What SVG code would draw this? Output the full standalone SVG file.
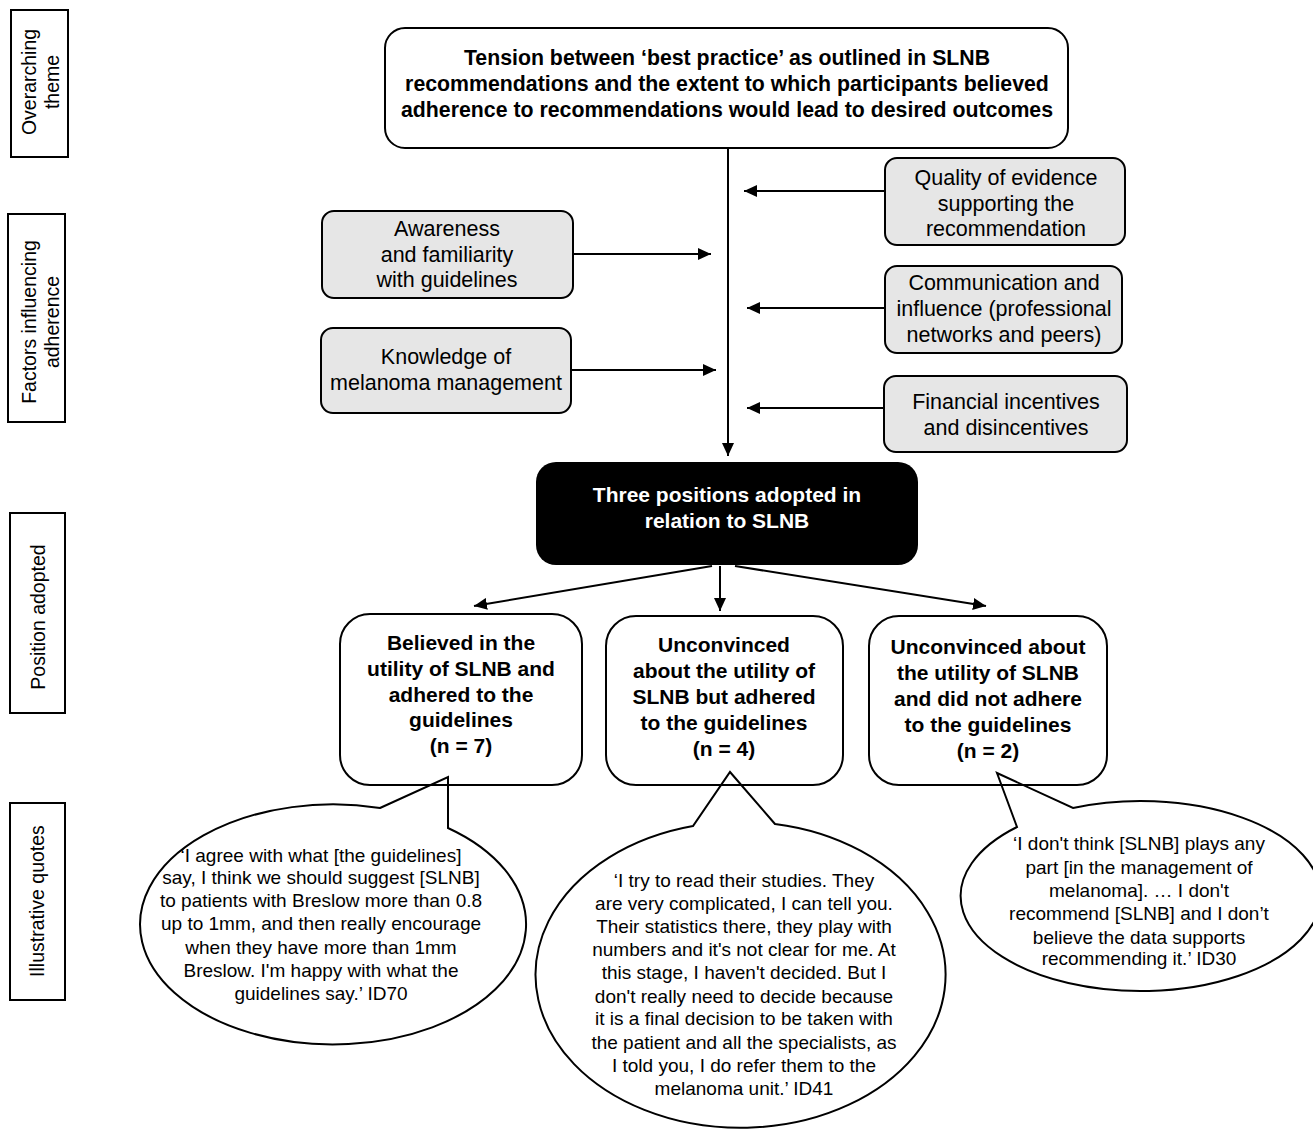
<svg xmlns="http://www.w3.org/2000/svg" width="1313" height="1130" viewBox="0 0 1313 1130">
<defs>
<marker id="ah" markerUnits="userSpaceOnUse" markerWidth="13" markerHeight="12" refX="13" refY="6" orient="auto">
<path d="M0,0 L13,6 L0,12 z" fill="#000"/>
</marker>
<style>
text{font-family:"Liberation Sans",Arial,sans-serif;text-anchor:middle;fill:#000}
.lab{font-size:19.5px}
.hd{font-size:21px;font-weight:bold}
.top{font-size:21.3px}
.wh{fill:#fff}
.gr{font-size:21.5px}
.q{font-size:19px}
.box{fill:#fff;stroke:#000;stroke-width:2}
.gbox{fill:#e6e6e6;stroke:#000;stroke-width:2}
.lbox{fill:#fff;stroke:#000;stroke-width:2}
.con{stroke:#000;stroke-width:2;fill:none;marker-end:url(#ah)}
.bub{fill:#fff;stroke:#000;stroke-width:2;stroke-linejoin:miter}
</style>
</defs>
<rect width="1313" height="1130" fill="#fff"/>

<g id="label-overarching">
<rect class="lbox" x="11" y="10" width="57" height="147"/>
<text class="lab" transform="translate(39,82) rotate(-90)"><tspan x="0" y="-3">Overarching</tspan><tspan x="0" y="20">theme</tspan></text>
</g>
<g id="label-factors">
<rect class="lbox" x="8" y="214" width="57" height="208"/>
<text class="lab" transform="translate(37,322) rotate(-90)"><tspan x="0" y="-1">Factors influencing</tspan><tspan x="0" y="22">adherence</tspan></text>
</g>
<g id="label-position">
<rect class="lbox" x="10" y="513" width="55" height="200"/>
<text class="lab" transform="translate(38,617) rotate(-90)"><tspan x="0" y="7">Position adopted</tspan></text>
</g>
<g id="label-quotes">
<rect class="lbox" x="10" y="803" width="55" height="197"/>
<text class="lab" transform="translate(38,901) rotate(-90)"><tspan x="0" y="6">Illustrative quotes</tspan></text>
</g>

<g id="connectors">
<line class="con" x1="728" y1="148" x2="728" y2="456"/>
<line class="con" x1="573" y1="254" x2="711" y2="254"/>
<line class="con" x1="571" y1="370" x2="716" y2="370"/>
<line class="con" x1="885" y1="191" x2="744" y2="191"/>
<line class="con" x1="885" y1="308" x2="747" y2="308"/>
<line class="con" x1="884" y1="408" x2="747" y2="408"/>
<line class="con" x1="712" y1="566" x2="474" y2="606"/>
<line class="con" x1="720" y1="566" x2="720" y2="611"/>
<line class="con" x1="735" y1="566" x2="986" y2="606"/>
</g>

<g id="theme">
<rect class="box" x="385" y="28" width="683" height="120" rx="20"/>
<text class="hd top"><tspan x="727" y="65">Tension between ‘best practice’ as outlined in SLNB</tspan><tspan x="727" y="91">recommendations and the extent to which participants believed</tspan><tspan x="727" y="117">adherence to recommendations would lead to desired outcomes</tspan></text>
</g>

<g id="awareness">
<rect class="gbox" x="322" y="211" width="251" height="87" rx="12"/>
<text class="gr"><tspan x="447" y="236">Awareness</tspan><tspan x="447" y="262">and familiarity</tspan><tspan x="447" y="287">with guidelines</tspan></text>
</g>
<g id="knowledge">
<rect class="gbox" x="321" y="328" width="250" height="85" rx="12"/>
<text class="gr"><tspan x="446" y="364">Knowledge of</tspan><tspan x="446" y="390">melanoma management</tspan></text>
</g>
<g id="quality">
<rect class="gbox" x="885" y="158" width="240" height="87" rx="12"/>
<text class="gr"><tspan x="1006" y="185">Quality of evidence</tspan><tspan x="1006" y="211">supporting the</tspan><tspan x="1006" y="236">recommendation</tspan></text>
</g>
<g id="communication">
<rect class="gbox" x="885" y="266" width="237" height="87" rx="12"/>
<text class="gr"><tspan x="1004" y="290">Communication and</tspan><tspan x="1004" y="316">influence (professional</tspan><tspan x="1004" y="342">networks and peers)</tspan></text>
</g>
<g id="financial">
<rect class="gbox" x="884" y="376" width="243" height="76" rx="12"/>
<text class="gr"><tspan x="1006" y="409">Financial incentives</tspan><tspan x="1006" y="435">and disincentives</tspan></text>
</g>

<g id="positions">
<rect x="536" y="462" width="382" height="103" rx="20" fill="#000"/>
<text class="hd wh"><tspan x="727" y="502">Three positions adopted in</tspan><tspan x="727" y="528">relation to SLNB</tspan></text>
</g>

<g id="bubble1">
<path class="bub" d="M380,808 L448,777 L448,828 A193,120 0 1 1 380,808 Z"/>
<text class="q"><tspan x="321" y="862">‘I agree with what [the guidelines]</tspan><tspan x="321" y="884">say, I think we should suggest [SLNB]</tspan><tspan x="321" y="907">to patients with Breslow more than 0.8</tspan><tspan x="321" y="930">up to 1mm, and then really encourage</tspan><tspan x="321" y="954">when they have more than 1mm</tspan><tspan x="321" y="977">Breslow. I'm happy with what the</tspan><tspan x="321" y="1000">guidelines say.’ ID70</tspan></text>
</g>
<g id="bubble2">
<path class="bub" d="M775,824 L730,772 L693,826 A205,153 0 1 0 775,824 Z"/>
<text class="q"><tspan x="744" y="887">‘I try to read their studies. They</tspan><tspan x="744" y="910">are very complicated, I can tell you.</tspan><tspan x="744" y="933">Their statistics there, they play with</tspan><tspan x="744" y="956">numbers and it's not clear for me. At</tspan><tspan x="744" y="979">this stage, I haven't decided. But I</tspan><tspan x="744" y="1003">don't really need to decide because</tspan><tspan x="744" y="1025">it is a final decision to be taken with</tspan><tspan x="744" y="1049">the patient and all the specialists, as</tspan><tspan x="744" y="1072">I told you, I do refer them to the</tspan><tspan x="744" y="1095">melanoma unit.’ ID41</tspan></text>
</g>
<g id="bubble3">
<path class="bub" d="M1017,827 L997,773 L1073,808 A180,95 0 1 1 1017,827 Z"/>
<text class="q"><tspan x="1139" y="850">‘I don't think [SLNB] plays any</tspan><tspan x="1139" y="874">part [in the management of</tspan><tspan x="1139" y="897">melanoma]. … I don't</tspan><tspan x="1139" y="920">recommend [SLNB] and I don’t</tspan><tspan x="1139" y="944">believe the data supports</tspan><tspan x="1139" y="965">recommending it.’ ID30</tspan></text>
</g>

<g id="pos1">
<rect x="340" y="614" width="242" height="171" rx="30" fill="none" stroke="#000" stroke-width="2"/>
<text class="hd"><tspan x="461" y="650">Believed in the</tspan><tspan x="461" y="676">utility of SLNB and</tspan><tspan x="461" y="702">adhered to the</tspan><tspan x="461" y="727">guidelines</tspan><tspan x="461" y="753">(n = 7)</tspan></text>
</g>
<g id="pos2">
<rect x="606" y="616" width="237" height="169" rx="30" fill="none" stroke="#000" stroke-width="2"/>
<text class="hd"><tspan x="724" y="652">Unconvinced</tspan><tspan x="724" y="678">about the utility of</tspan><tspan x="724" y="704">SLNB but adhered</tspan><tspan x="724" y="730">to the guidelines</tspan><tspan x="724" y="756">(n = 4)</tspan></text>
</g>
<g id="pos3">
<rect x="869" y="616" width="238" height="169" rx="30" fill="none" stroke="#000" stroke-width="2"/>
<text class="hd"><tspan x="988" y="654">Unconvinced about</tspan><tspan x="988" y="680">the utility of SLNB</tspan><tspan x="988" y="706">and did not adhere</tspan><tspan x="988" y="732">to the guidelines</tspan><tspan x="988" y="758">(n = 2)</tspan></text>
</g>
</svg>
